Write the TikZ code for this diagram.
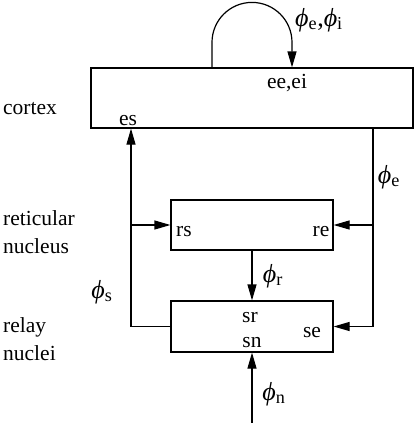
\documentclass[tikz,border=0pt]{standalone}
\usepackage{fontspec}
\setmainfont{Liberation Serif}
\usetikzlibrary{arrows.meta}

\newcommand{\fld}[1]{{\itshape ϕ}\textsubscript{#1}}

\tikzset{
    block/.style={draw, line width=1.2pt, inner sep=0pt},
    conn/.style={line width=1.2pt, -{Triangle[length=16pt,width=9pt]}},
    port/.style={anchor=base, inner sep=0pt},
    side/.style={anchor=base west, inner sep=0pt, align=left},
    field/.style={font=\fontsize{26}{30}\selectfont}
}

\begin{document}
\begin{tikzpicture}[x=1pt,y=-1pt,font=\fontsize{21.5}{28}\selectfont]
    \useasboundingbox (0,0) rectangle (415,423);
    % the three stages
    \node[block, minimum width=322pt, minimum height=60pt] (cortex) at (252,98) {};
    \node[block, minimum width=162pt, minimum height=50pt] (ret) at (252,225) {};
    \node[block, minimum width=162pt, minimum height=51pt] (relay) at (252,326.5) {};
    % names on the left (base = last line)
    \node[side] (lcortex) at (3,114) {cortex};
    \node[side] (lret) at (3,253) {reticular\\nucleus};
    \node[side] (lrelay) at (3,360) {relay\\nuclei};
    % inputs inside the boxes
    \node[port] (ee) at (287,88) {ee,ei};
    \node[port] (es) at (128,125) {es};
    \node[port] (rs) at (184,236) {rs};
    \node[port] (re) at (321,236) {re};
    \node[port] (sr) at (250,322) {sr};
    \node[port] (sn) at (252,347) {sn};
    \node[port] (se) at (312,337) {se};
    % wires
    \coordinate (lft) at (131,326.5);
    \coordinate (rgt) at (373,326.5);
    \coordinate (inp) at (252,423);
    \draw[conn] ([xshift=-40pt]cortex.north) -- ++(0,-25)
        arc[start angle=180, end angle=0, radius=40pt] -- ([xshift=40pt]cortex.north);
    \draw[conn] (relay.west) -- (lft) -- (lft |- cortex.south);
    \draw[conn] (lft |- ret.west) -- (ret.west);
    \draw[conn] (rgt |- cortex.south) -- (rgt) -- (relay.east);
    \draw[conn] (rgt |- ret.east) -- (ret.east);
    \draw[conn] (ret.south) -- (relay.north);
    \draw[conn] (inp) -- (relay.south);
    % fields
    \node[field] (phiei) at (319,20) {\fld{e},\fld{i}};
    \node[field] (phie) at (389,177) {\fld{e}};
    \node[field] (phir) at (273,276) {\fld{r}};
    \node[field] (phis) at (102,292) {\fld{s}};
    \node[field] (phin) at (274,394) {\fld{n}};
\end{tikzpicture}
\end{document}
